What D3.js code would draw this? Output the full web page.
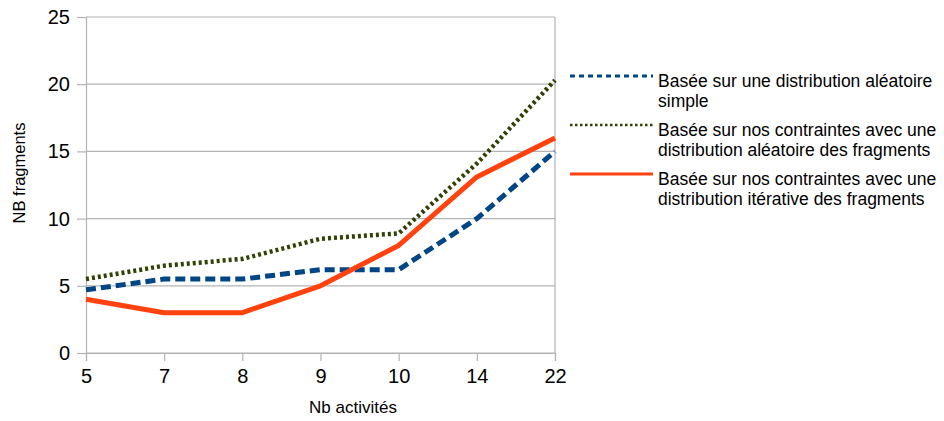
<!DOCTYPE html>
<html><head><meta charset="utf-8">
<script src="https://cdn.jsdelivr.net/npm/d3@7"></script>
<style>body{margin:0;background:#fff}svg{display:block}text{font-family:"Liberation Sans",Arial,sans-serif;fill:#000}</style>
</head><body>
<svg id="c" width="944" height="421"></svg>
<script>
const categories = ["5","7","8","9","10","14","22"];
const seriesNames = [
  ["Basée sur une distribution aléatoire","simple"],
  ["Basée sur nos contraintes avec une","distribution aléatoire des fragments"],
  ["Basée sur nos contraintes avec une","distribution itérative des fragments"]
];
const aleatoireSimple = [4.7,5.5,5.5,6.2,6.2,10,15];
const contraintesAleatoire = [5.5,6.5,7.0,8.5,8.9,14.1,20.3];
const contraintesIterative = [4,3,3,5,8,13.1,16];
const yTicks = [0,5,10,15,20,25];
const xTitle = "Nb activités";
const yTitle = "NB fragments";

const seriesValues = [aleatoireSimple, contraintesAleatoire, contraintesIterative];
const styles = [
  {color:"#004586", width:5, dash:"10,5", lw:3, ldash:"5,4"},
  {color:"#314004", width:4.5, dash:"3,3", lw:2.5, ldash:"2.5,2.5"},
  {color:"#ff420e", width:5, dash:null, lw:3, ldash:null}
];

const svg = d3.select("#c");
const m = {l:86, r:555, t:17, b:353};
const x = d3.scalePoint().domain(categories).range([m.l, m.r]);
const y = d3.scaleLinear().domain([0,25]).range([m.b, m.t]);
const grid = "#b3b3b3";

// gridlines
svg.append("g").selectAll("line").data(yTicks).join("line")
  .attr("x1", m.l).attr("x2", m.r).attr("y1", d=>y(d)).attr("y2", d=>y(d))
  .attr("stroke", grid).attr("stroke-width",1.2);
svg.append("line").attr("x1",m.r).attr("x2",m.r).attr("y1",m.t).attr("y2",m.b).attr("stroke",grid).attr("stroke-width",1.2);

// y axis
const ya = svg.append("g").attr("transform",`translate(${m.l},0)`)
  .call(d3.axisLeft(y).tickValues(yTicks).tickSize(9).tickPadding(7));
ya.select(".domain").attr("stroke",grid).attr("stroke-width",1.2);
ya.selectAll(".tick line").attr("stroke",grid).attr("stroke-width",1.2);
ya.selectAll(".tick text").attr("font-size",20).attr("font-family","Liberation Sans, Arial, sans-serif").attr("fill","#000");

// x axis
const xa = svg.append("g").attr("transform",`translate(0,${m.b})`)
  .call(d3.axisBottom(x).tickSize(8).tickPadding(8));
xa.select(".domain").attr("stroke",grid).attr("stroke-width",1.2);
xa.selectAll(".tick line").attr("stroke",grid).attr("stroke-width",1.2);
xa.selectAll(".tick text").attr("font-size",20).attr("font-family","Liberation Sans, Arial, sans-serif").attr("fill","#000");

// titles
svg.append("text").attr("x",353).attr("y",413).attr("text-anchor","middle").attr("font-size",17).text(xTitle);
svg.append("text").attr("transform","translate(25,173) rotate(-90)").attr("text-anchor","middle").attr("font-size",16.5).text(yTitle);

// lines
const line = d3.line().x((d,i)=>x(categories[i])).y(d=>y(d));
seriesValues.forEach((vals,k)=>{
  const s = styles[k];
  svg.append("path").datum(vals).attr("d",line).attr("fill","none")
    .attr("stroke",s.color).attr("stroke-width",s.width)
    .attr("stroke-dasharray",s.dash).attr("stroke-linejoin","round");
});

// legend
const lg = svg.append("g");
seriesNames.forEach((lines,k)=>{
  const s = styles[k];
  const cy = 76 + k*49;
  lg.append("line").attr("x1",570).attr("x2",653).attr("y1",cy).attr("y2",cy)
    .attr("stroke",s.color).attr("stroke-width",s.lw).attr("stroke-dasharray",s.ldash);
  const t = lg.append("text").attr("x",658).attr("y",cy+11).attr("font-size",17.5);
  lines.forEach((ln,j)=>t.append("tspan").attr("x",658).attr("dy", j===0?0:20).text(ln));
});
</script>
</body></html>
